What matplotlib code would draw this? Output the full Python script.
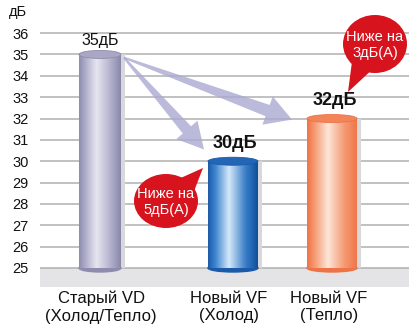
import numpy as np
import matplotlib.pyplot as plt
from matplotlib.colors import LinearSegmentedColormap
from matplotlib.patches import Ellipse, Polygon
from matplotlib.transforms import IdentityTransform

plt.rcParams['font.family'] = ['Liberation Sans', 'DejaVu Sans']

categories = ["Старый VD\n(Холод/Тепло)", "Новый VF\n(Холод)", "Новый VF\n(Тепло)"]
values = [35, 30, 32]
value_labels = ["35дБ", "30дБ", "32дБ"]
yticks = list(range(25, 37))
callouts = ["Ниже на\n5дБ(А)", "Ниже на\n3дБ(А)"]

W, H = 409, 329
x_pos = [100, 233, 332]
widths = [42, 50, 50]
y_min, y_max = 24.11, 37.55
base = 25

# gradient stops (edge .. highlight .. edge) and top cap colour
bar_styles = [
    (["#8e8cae", "#aeadc8", "#e6e6f0", "#b3b2cc", "#8a88aa"], "#a9a7c4"),
    (["#1b5aa8", "#3f86cf", "#d4e9f9", "#3a7fc8", "#0f4e9c"], "#2466b6"),
    (["#ee7346", "#f59a72", "#fde6da", "#f59a72", "#ef7648"], "#f3845a"),
]

fig = plt.figure(figsize=(W / 100, H / 100), dpi=100)
ax = fig.add_axes([40 / W, (H - 287) / H, (W - 40) / W, 287 / H])
ax.set_xlim(40, W)
ax.set_ylim(y_min, y_max)
for s in ax.spines.values():
    s.set_visible(False)
ax.set_xticks([])
ax.set_yticks(yticks)
ax.tick_params(axis='y', length=0, pad=8, labelsize=10.5, labelcolor='#111111')

# grid and floor band
for t in yticks:
    ax.axhline(t, color='#b0b0b0', lw=1.1, zorder=1)
ax.axhspan(y_min, base, color='#e4e4e6', zorder=0)
ax.text(-0.06, 37.0, "дБ", transform=ax.get_yaxis_transform(), ha='center',
        va='center', fontsize=10.5, color='#111111')

# cylinders
px = (y_max - y_min) / 287.0  # data units per pixel in y
cap_h = 8 * px
bars = ax.bar(x_pos, [v - base for v in values], width=widths, bottom=base,
              color='none', edgecolor='none', zorder=3)
grad = np.linspace(0, 1, 256).reshape(1, -1)
for rect, (stops, top), v in zip(bars, bar_styles, values):
    x0, w = rect.get_x(), rect.get_width()
    cm = LinearSegmentedColormap.from_list(
        "c", list(zip([0, 0.15, 0.42, 0.75, 1.0], stops)))
    # soft shadow on the right side
    ax.add_patch(plt.Rectangle((x0 + w, base), 4, v - base, color='#d8d8da',
                               zorder=2, lw=0))
    ax.add_patch(Ellipse((x0 + w / 2, base), w, cap_h, color=stops[0], zorder=3))
    im = ax.imshow(grad, cmap=cm, aspect='auto', zorder=4,
                   extent=[x0, x0 + w, base, v], interpolation='bilinear')
    im.set_clip_path(plt.Rectangle((x0, base), w, v - base, transform=ax.transData))
    ax.add_patch(Ellipse((x0 + w / 2, v), w, cap_h, facecolor=top,
                         edgecolor=stops[0], lw=0.6, zorder=5))
ax.set_xlim(40, W)
ax.set_ylim(y_min, y_max)

# value labels
ax.text(x_pos[0], values[0] + 0.65, value_labels[0], ha='center', va='center',
        fontsize=11.5, color='#111111', zorder=6)
ax.text(x_pos[1] + 2, values[1] + 0.85, value_labels[1], ha='center', va='center',
        fontsize=13, fontweight='bold', color='#111111', zorder=6)
ax.text(x_pos[2] + 3, values[2] + 0.85, value_labels[2], ha='center', va='center',
        fontsize=13, fontweight='bold', color='#111111', zorder=6)

# category labels
for x, lab in zip([101, 229, 329], categories):
    fig.text(x / W, 1 - 291 / H, lab, ha='center', va='top', fontsize=12,
             linespacing=1.2, color='#111111')

fig.canvas.draw()


def to_px(x, y):
    return ax.transData.transform((x, y))


def pix(xp, yp):
    # top-left pixel position to display coordinates
    return np.array([xp, H - yp])


def tapered_arrow(p0, p1, w0, w1, hw, hl, color):
    p0, p1 = np.asarray(p0, float), np.asarray(p1, float)
    d = p1 - p0
    u = d / np.hypot(*d)
    n = np.array([-u[1], u[0]])
    hb = p1 - u * hl
    pts = [p0 + n * w0 / 2, hb + n * w1 / 2, hb + n * hw / 2, p1,
           hb - n * hw / 2, hb - n * w1 / 2, p0 - n * w0 / 2]
    ax.add_patch(Polygon(pts, closed=True, transform=IdentityTransform(),
                         facecolor=color, edgecolor='none', zorder=2.5, alpha=0.8))


# arrows from the old model towards the new ones
start = to_px(x_pos[0] + widths[0] / 2 + 3, values[0] - 0.15)
tapered_arrow(start, to_px(204, 30.55), 2, 11, 28, 26, '#aba9d2')
tapered_arrow(start, to_px(292, 31.95), 2, 12, 30, 26, '#aba9d2')


def callout(center, size, tip, text):
    c = pix(*center)
    t = pix(*tip)
    d = t - c
    ang = np.arctan2(d[1], d[0])
    spread = 0.4
    rx, ry = size[0] / 2 * 0.9, size[1] / 2 * 0.9
    a = c + np.array([rx * np.cos(ang + spread), ry * np.sin(ang + spread)])
    b = c + np.array([rx * np.cos(ang - spread), ry * np.sin(ang - spread)])
    red = '#d7141e'
    ax.add_patch(Polygon([a, t, b], closed=True, transform=IdentityTransform(),
                         facecolor=red, edgecolor='none', zorder=7))
    ax.add_patch(Ellipse(c, size[0], size[1], transform=IdentityTransform(),
                         facecolor=red, edgecolor='none', zorder=7))
    fig.text(center[0] / W, 1 - (center[1] + 1) / H, text, ha='center', va='center',
             fontsize=10.5, color='white', linespacing=1.25, zorder=8)


callout((166, 201), (64, 54), (203, 168), callouts[0])
callout((375, 44), (64, 58), (348, 92), callouts[1])

fig.savefig("out.png", dpi=100)
